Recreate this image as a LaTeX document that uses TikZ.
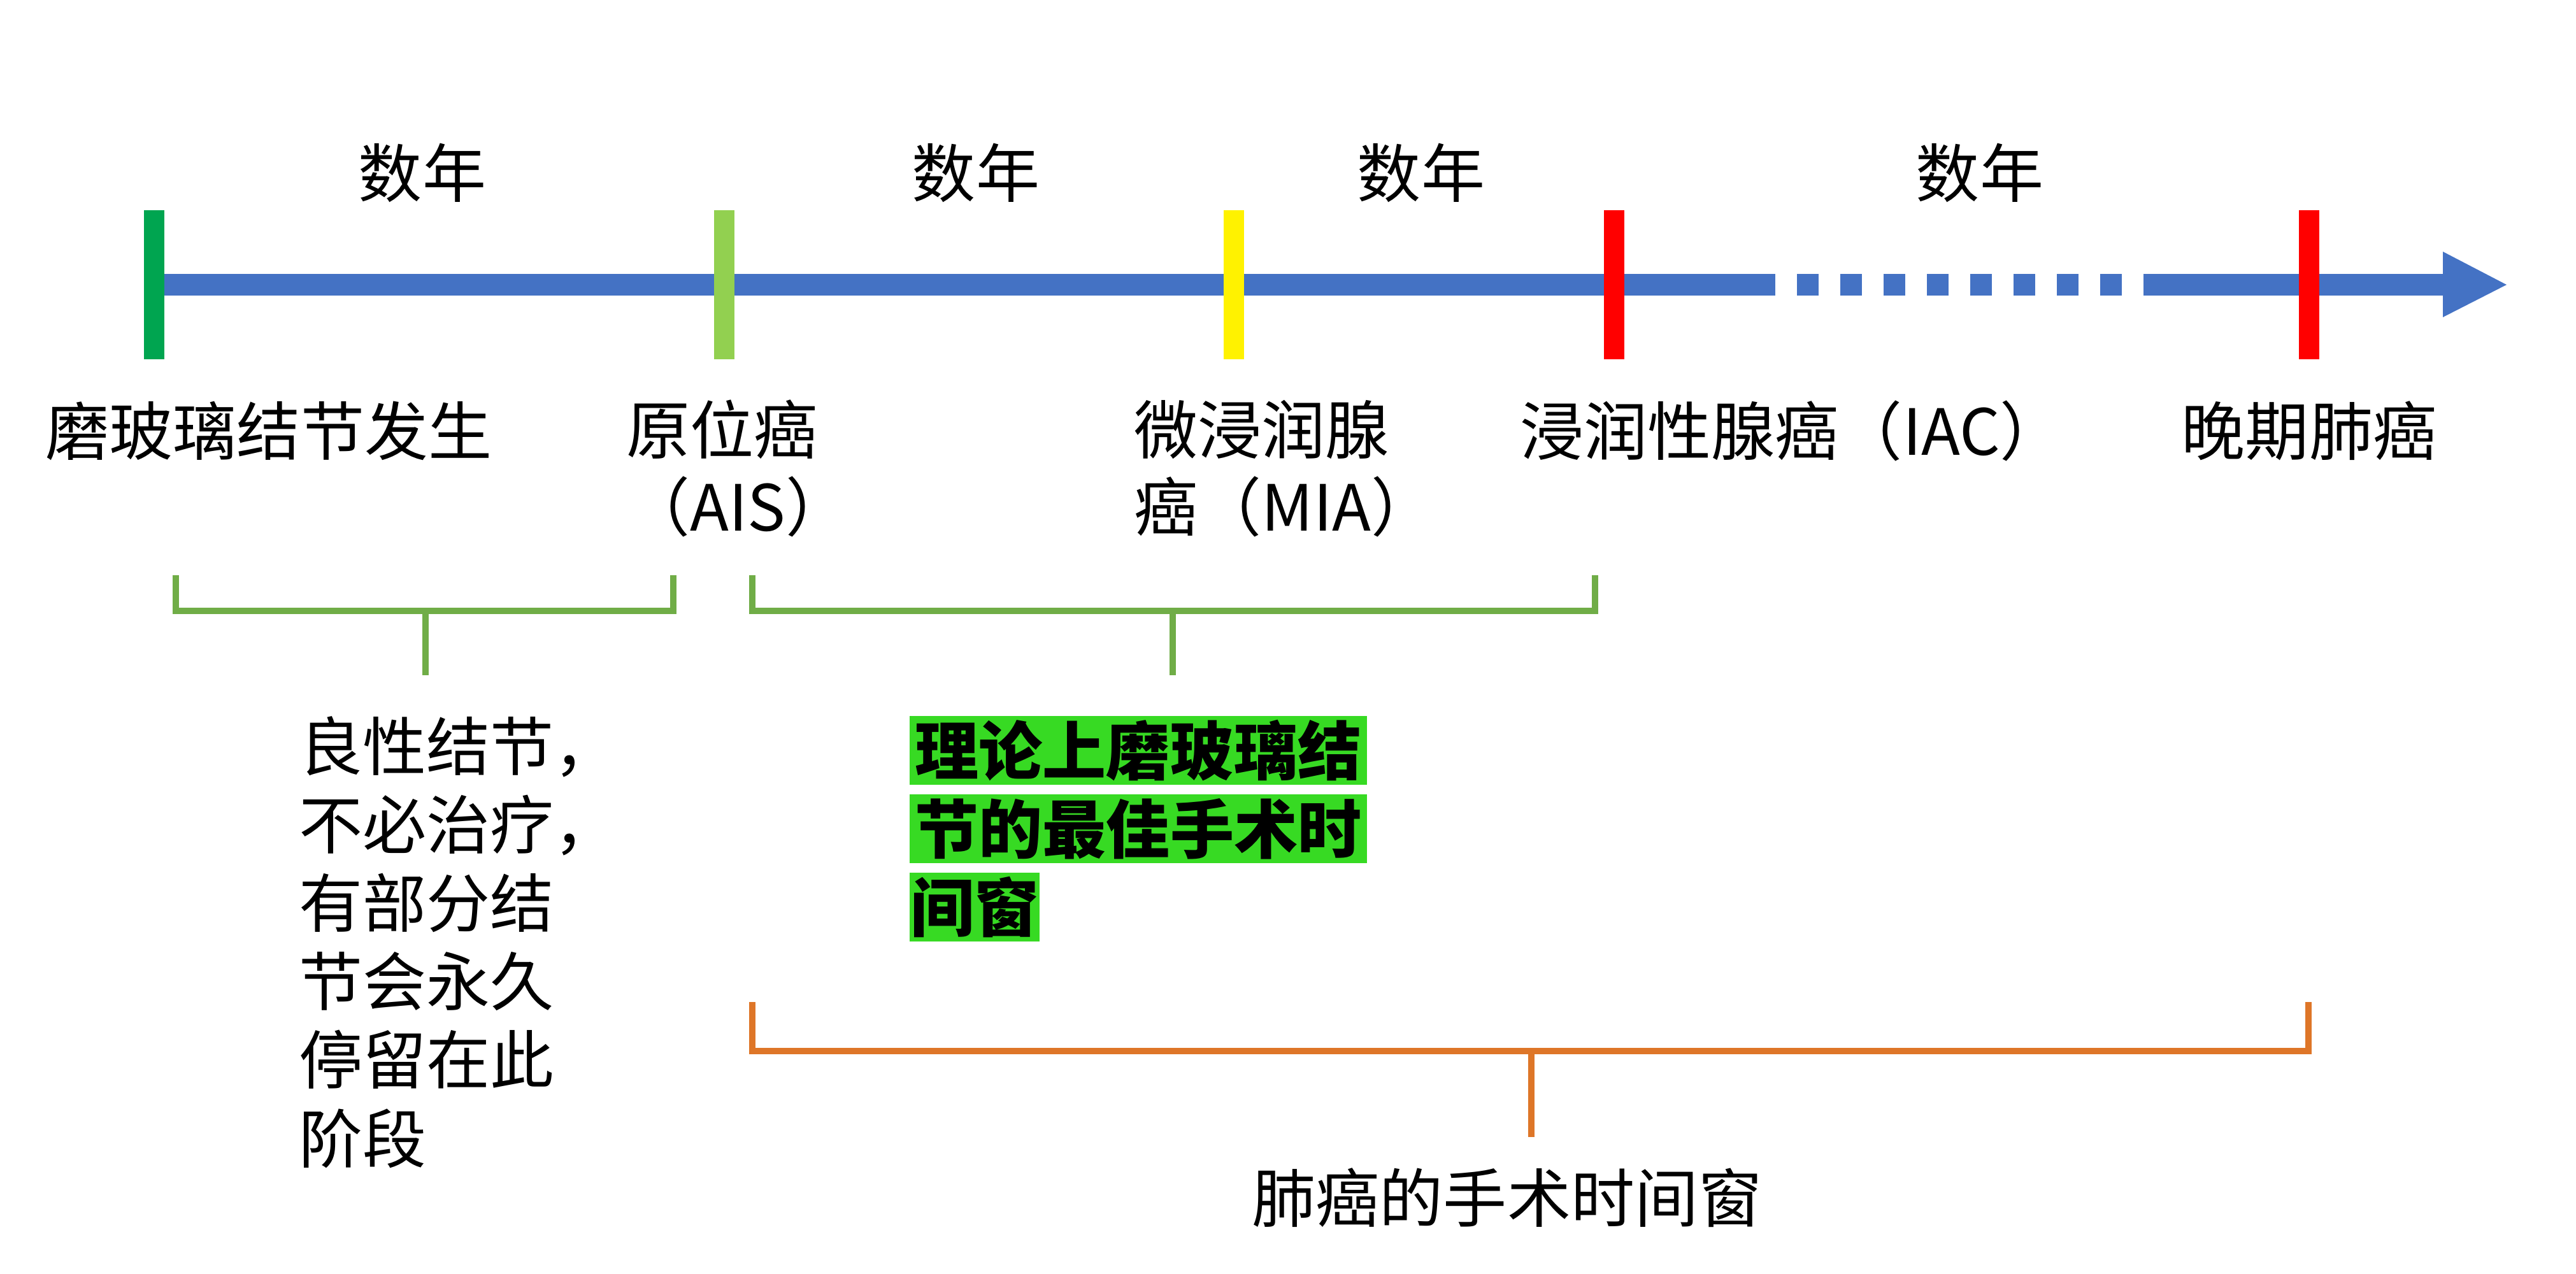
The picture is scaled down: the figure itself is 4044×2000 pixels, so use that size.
\documentclass[tikz,border=0pt]{standalone}
\usepackage{fontspec}
\newfontfamily\cjk{Noto Sans CJK SC}
\definecolor{barblue}{RGB}{68,114,196}
\definecolor{tickdg}{RGB}{0,165,80}
\definecolor{ticklg}{RGB}{146,208,80}
\definecolor{tickye}{RGB}{255,242,0}
\definecolor{tickrd}{RGB}{255,0,0}
\definecolor{brgreen}{RGB}{112,173,71}
\definecolor{brorange}{RGB}{222,118,40}
\definecolor{hlgreen}{RGB}{55,218,35}
\begin{document}
\begin{tikzpicture}[x=0.01cm,y=-0.01cm,
  tick/.style={draw=none,minimum width=0.32cm,minimum height=2.33cm,inner sep=0pt},
  lbl/.style={font=\cjk\fontsize{28.45pt}{34.4pt}\selectfont,inner sep=0pt,align=left,text=black},
  note/.style={font=\cjk\fontsize{28.45pt}{35pt}\selectfont,inner sep=0pt,align=left,text=black},
  hlbox/.style={font=\cjk\bfseries\fontsize{28.45pt}{34pt}\selectfont,fill=hlgreen,inner sep=0pt,minimum height=1.07cm,text=black},
  gbr/.style={draw=brgreen,line width=2.6pt,line join=miter},
  obr/.style={draw=brorange,line width=2.8pt,line join=miter}]
\useasboundingbox (0,0) rectangle (4044,2000);
% time bar
\fill[barblue] (242,430) rectangle (3835,464);
\fill[barblue] (3835,395) -- (3935,447) -- (3835,498) -- cycle;
\foreach \k in {0,...,8}{
  \fill[white] ({2787+68*\k},430) rectangle ({2821+68*\k},464);
}
% ticks
\node[tick,fill=tickdg] (t1) at (242,447) {};
\node[tick,fill=ticklg] (t2) at (1137,447) {};
\node[tick,fill=tickye] (t3) at (1937,447) {};
\node[tick,fill=tickrd] (t4) at (2534,447) {};
\node[tick,fill=tickrd] (t5) at (3625,447) {};
% years
\node[lbl] (y1) at (663,271) {数年};
\node[lbl] (y2) at (1532,271) {数年};
\node[lbl] (y3) at (2231,271) {数年};
\node[lbl] (y4) at (3108,271) {数年};
% stage labels
\node[lbl] (s1) at (422,676) {磨玻璃结节发生};
\node[lbl,anchor=north west] (s2) at (983,627) {原位癌\\（AIS）};
\node[lbl,anchor=north west] (s3) at (1780,627) {微浸润腺\\癌（MIA）};
\node[lbl,anchor=west] (s4) at (2386,676) {浸润性腺癌（IAC）};
\node[lbl] (s5) at (3625,676) {晚期肺癌};
% green brackets
\draw[gbr] (276,903) -- (276,959) -- (1057,959) -- (1057,903);
\coordinate (b1) at (668,959);
\coordinate (b1e) at (668,1060);
\draw[gbr] (b1) -- (b1e);
\draw[gbr] (1181,903) -- (1181,959) -- (2504,959) -- (2504,903);
\coordinate (b2) at (1841,959);
\coordinate (b2e) at (1841,1060);
\draw[gbr] (b2) -- (b2e);
% benign note
\node[note,anchor=north west] (n1) at (469,1124) {良性结节，\\不必治疗，\\有部分结\\节会永久\\停留在此\\阶段};
% highlighted note
\node[hlbox,minimum width=7.17cm] (h1) at (1787,1178) {理论上磨玻璃结};
\node[hlbox,minimum width=7.17cm] (h2) at (1787,1301) {节的最佳手术时};
\node[hlbox,minimum width=2.03cm] (h3) at (1530,1424) {间窗};
% orange bracket
\draw[obr] (1181,1573) -- (1181,1650) -- (3624,1650) -- (3624,1573);
\coordinate (b3) at (2404,1650);
\coordinate (b3e) at (2404,1785);
\draw[obr] (b3) -- (b3e);
\node[lbl] (n3) at (2366,1880) {肺癌的手术时间窗};
\end{tikzpicture}
\end{document}
